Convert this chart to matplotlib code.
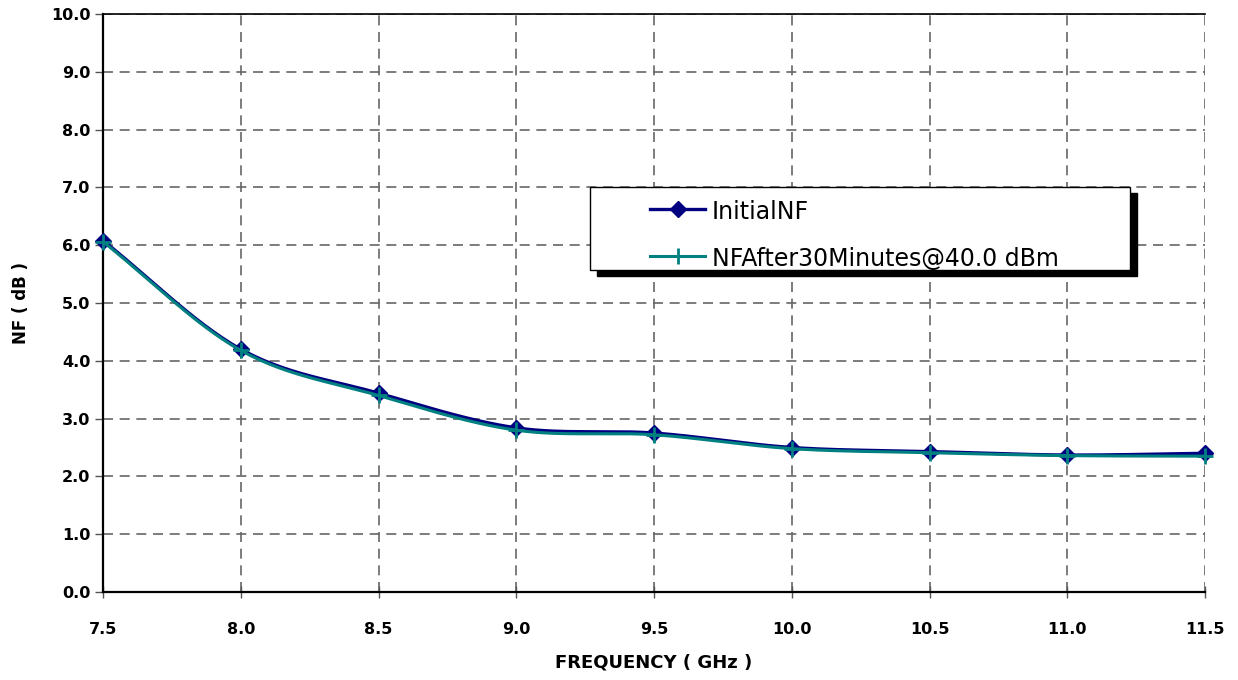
import numpy as np
import matplotlib
matplotlib.use("Agg")
import matplotlib.pyplot as plt
from matplotlib.lines import Line2D
from matplotlib.patches import Rectangle

# ---- data ----
freq_ghz = [7.5, 8.0, 8.5, 9.0, 9.5, 10.0, 10.5, 11.0, 11.5]
initial_nf = [6.08, 4.20, 3.44, 2.84, 2.75, 2.50, 2.43, 2.37, 2.40]
nf_after_30min = [6.06, 4.18, 3.40, 2.80, 2.72, 2.48, 2.41, 2.36, 2.35]
series_labels = ["InitialNF", "NFAfter30Minutes@40.0 dBm"]
x_ticks = [7.5, 8.0, 8.5, 9.0, 9.5, 10.0, 10.5, 11.0, 11.5]
y_ticks = [0, 1, 2, 3, 4, 5, 6, 7, 8, 9, 10]

NAVY = "#000080"
TEAL = "#008080"

plt.rcParams['font.family'] = ['DejaVu Sans']


def smooth(xs, ys, n=30):
    """Catmull-Rom style smoothing (like spreadsheet 'smoothed line')."""
    xs = np.asarray(xs, float)
    ys = np.asarray(ys, float)
    px = np.concatenate([[2 * xs[0] - xs[1]], xs, [2 * xs[-1] - xs[-2]]])
    py = np.concatenate([[2 * ys[0] - ys[1]], ys, [2 * ys[-1] - ys[-2]]])
    outx, outy = [], []
    for i in range(1, len(px) - 2):
        x0, x1, x2, x3 = px[i - 1:i + 3]
        y0, y1, y2, y3 = py[i - 1:i + 3]
        c1x, c1y = x1 + (x2 - x0) / 6, y1 + (y2 - y0) / 6
        c2x, c2y = x2 - (x3 - x1) / 6, y2 - (y3 - y1) / 6
        t = np.linspace(0, 1, n, endpoint=(i == len(px) - 3))
        bx = (1 - t) ** 3 * x1 + 3 * (1 - t) ** 2 * t * c1x + 3 * (1 - t) * t ** 2 * c2x + t ** 3 * x2
        by = (1 - t) ** 3 * y1 + 3 * (1 - t) ** 2 * t * c1y + 3 * (1 - t) * t ** 2 * c2y + t ** 3 * y2
        outx.append(bx)
        outy.append(by)
    return np.concatenate(outx), np.concatenate(outy)


W, H = 1238, 680
fig = plt.figure(figsize=(W / 100, H / 100), dpi=100)
ax_left, ax_right, ax_top, ax_bottom = 103, 1205, 14, 592
ax = fig.add_axes([ax_left / W, 1 - ax_bottom / H,
                   (ax_right - ax_left) / W, (ax_bottom - ax_top) / H])

ax.set_xlim(7.5, 11.5)
ax.set_ylim(0, 10)

ax.set_xticks(x_ticks)
ax.set_yticks(y_ticks)
ax.grid(True, color="#666666", linestyle=(0, (6, 4)), linewidth=1.2)
ax.set_axisbelow(True)

sx, sy = smooth(freq_ghz, initial_nf)
ax.plot(sx, sy, color=NAVY, lw=2.4, zorder=3, solid_capstyle='round')
ax.plot(freq_ghz, initial_nf, linestyle='none', marker='D', markersize=8.5,
        color=NAVY, zorder=4, clip_on=False)
sx2, sy2 = smooth(freq_ghz, nf_after_30min)
ax.plot(sx2, sy2, color=TEAL, lw=2.2, zorder=5, solid_capstyle='round')
ax.plot(freq_ghz, nf_after_30min, linestyle='none', marker='+', markersize=11,
        markeredgewidth=2, color=TEAL, zorder=6, clip_on=False)

for s in ['left', 'bottom']:
    ax.spines[s].set_linewidth(1.6)
    ax.spines[s].set_color('black')
ax.spines['top'].set_linewidth(1.2)
ax.spines['right'].set_visible(False)

ax.xaxis.set_major_formatter(plt.FormatStrFormatter('%.1f'))
ax.yaxis.set_major_formatter(plt.FormatStrFormatter('%.1f'))
ax.tick_params(axis='x', direction='inout', length=9, width=1, color='#555555',
               pad=17, labelsize=11.5)
ax.tick_params(axis='y', direction='out', length=6, width=1, color='#555555',
               pad=3, labelsize=11.5)
for lab in ax.get_xticklabels() + ax.get_yticklabels():
    lab.set_fontweight('bold')

ax.set_xlabel("FREQUENCY ( GHz )", fontsize=13, fontweight='bold', labelpad=12)
ax.set_ylabel("NF ( dB )", fontsize=12, fontweight='bold', labelpad=15)

# legend (drawn manually to match box with black shadow)
def fx(px):
    return px / W

def fy(py):
    return 1 - py / H

lx0, lx1, ly0, ly1 = 590, 1130, 187, 270
shadow = Rectangle((fx(lx0 + 7), fy(ly1 + 6)), fx(lx1 - lx0), (ly1 - ly0) / H,
                   transform=fig.transFigure, facecolor='black', edgecolor='black', zorder=9)
box = Rectangle((fx(lx0), fy(ly1)), fx(lx1 - lx0), (ly1 - ly0) / H,
                transform=fig.transFigure, facecolor='white', edgecolor='black',
                linewidth=1, zorder=10)
fig.add_artist(shadow)
fig.add_artist(box)
rows = [209, 256]
styles = [dict(color=NAVY, marker='D', markersize=8.5, lw=2.4),
          dict(color=TEAL, marker='+', markersize=11, markeredgewidth=2, lw=2.2)]
for yrow, st, lab in zip(rows, styles, series_labels):
    fig.add_artist(Line2D([fx(650), fx(705)], [fy(yrow), fy(yrow)],
                          transform=fig.transFigure,
                          color=st['color'], lw=st['lw'], zorder=11))
    fig.add_artist(Line2D([fx(677.5)], [fy(yrow)], transform=fig.transFigure,
                          linestyle='none', marker=st['marker'], markersize=st['markersize'],
                          markeredgewidth=st.get('markeredgewidth', 1),
                          color=st['color'], zorder=12))
    fig.text(fx(712), fy(yrow + 3), lab, fontsize=17, va='center', ha='left', zorder=13)

fig.savefig("out.png", dpi=100)
